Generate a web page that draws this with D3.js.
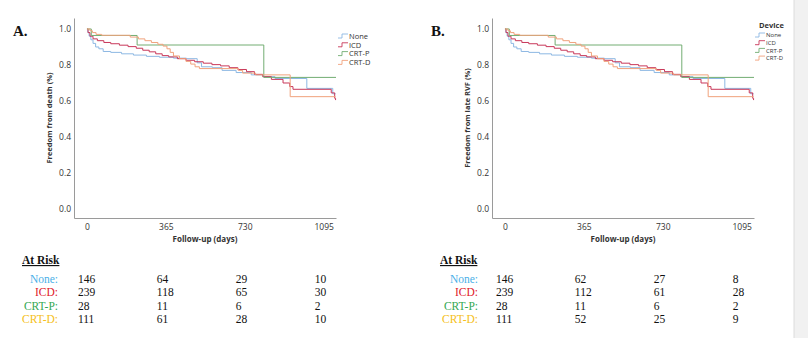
<!DOCTYPE html>
<html>
<head>
<meta charset="utf-8">
<script src="https://cdn.jsdelivr.net/npm/d3@7"></script>
<style>
body{margin:0;background:#fff;}
</style>
</head>
<body>
<script>
// groups and colours
var groups = ["None", "ICD", "CRT-P", "CRT-D"];
var lineColours = ["#8db8e3", "#c8385a", "#72ad72", "#f0a27c"];
var tableColours = ["#4ab0e8", "#e0202a", "#33a852", "#f5c020"];
var xTicks = [0, 365, 730, 1095];
var yTicks = [0, 0.2, 0.4, 0.6, 0.8, 1.0];

// KM steps [day, survival]
var noneSteps = [[0,1],[4,0.98],[10,0.96],[18,0.94],[28,0.92],[40,0.90],[55,0.89],[75,0.875],[110,0.87],[160,0.862],[215,0.855],[275,0.848],[335,0.843],[400,0.838],[460,0.835],[510,0.812],[530,0.79],[580,0.785],[625,0.77],[690,0.758],[760,0.745],[815,0.735],[870,0.725],[1017,0.67],[1137,0.64],[1150,0.64]];
var icdSteps = [[0,1],[5,0.98],[14,0.96],[28,0.945],[48,0.935],[78,0.925],[110,0.918],[150,0.91],[190,0.902],[228,0.893],[258,0.882],[288,0.873],[318,0.862],[348,0.852],[378,0.845],[418,0.835],[458,0.826],[498,0.818],[538,0.81],[578,0.802],[618,0.795],[658,0.785],[698,0.775],[738,0.763],[775,0.748],[813,0.735],[853,0.72],[907,0.70],[938,0.68],[953,0.665],[1130,0.645],[1146,0.615],[1150,0.605]];
var crtpSteps = [[0,1],[20,0.964],[232,0.911],[818,0.731],[1152,0.731]];
var crtdSteps = [[0,1],[14,0.99],[25,0.98],[42,0.97],[68,0.965],[200,0.955],[238,0.945],[268,0.935],[298,0.925],[328,0.915],[352,0.905],[370,0.89],[385,0.87],[400,0.85],[428,0.835],[458,0.82],[480,0.805],[500,0.79],[520,0.78],[700,0.77],[720,0.755],[780,0.745],[940,0.624],[1150,0.624]];

// at risk numbers
var riskA = [[146,64,29,10],[239,118,65,30],[28,11,6,2],[111,61,28,10]];
var riskB = [[146,62,27,8],[239,112,61,28],[28,11,6,2],[111,52,25,9]];

var svg = d3.select("body").append("svg")
	.attr("width", 808).attr("height", 338);

// grey strip on right edge
svg.append("rect").attr("x", 794).attr("y", 0).attr("width", 14).attr("height", 338).attr("fill", "#f1f1f1");
svg.append("line").attr("x1", 794).attr("x2", 794).attr("y1", 0).attr("y2", 338).style("stroke", "#dcdcdc");

drawPanel(0, "A.", "Freedom from death (%)", [noneSteps, icdSteps, crtpSteps, crtdSteps], riskA, false);
drawPanel(418, "B.", "Freedom from late RVF (%)", [noneSteps, icdSteps, crtpSteps, crtdSteps], riskB, true);

function drawPanel(dx, letter, yTitle, series, risk, deviceLegend){
	var g = svg.append("g").attr("transform", "translate(" + dx + ",0)");

	var x = d3.scaleLinear().domain([-60, 1152]).range([74, 336]);
	var y = d3.scaleLinear().domain([-0.05, 1.061]).range([218, 18]);

	g.append("text").attr("x", 13).attr("y", 36).text(letter)
		.attr("font-family", "Liberation Serif").attr("font-weight", "bold").attr("font-size", 15).attr("fill", "#111");

	// axes
	var xAxis = g.append("g").attr("transform", "translate(0,218)")
		.call(d3.axisBottom(x).tickValues(xTicks).tickSize(0).tickPadding(6).tickFormat(d3.format("d")));
	var yAxis = g.append("g").attr("transform", "translate(74,0)")
		.call(d3.axisLeft(y).tickValues(yTicks).tickSize(0).tickPadding(3).tickFormat(d3.format(".1f")));
	[xAxis, yAxis].forEach(function(a){
		a.select(".domain").style("stroke", "#9a9a9a");
		a.selectAll("text").attr("font-family", "Open Sans").attr("font-size", 8.5).attr("fill", "#333");
	});

	g.append("text").attr("x", 205).attr("y", 242).attr("text-anchor", "middle").text("Follow-up (days)")
		.attr("font-family", "Open Sans").attr("font-weight", "bold").attr("font-size", 8).attr("fill", "#333");
	g.append("text").attr("transform", "translate(52,118) rotate(-90)").attr("text-anchor", "middle").text(yTitle)
		.attr("font-family", "Open Sans").attr("font-weight", "bold").attr("font-size", 7.5).attr("fill", "#333");

	// curves
	var line = d3.line().x(function(d){return x(d[0]);}).y(function(d){return y(d[1]);}).curve(d3.curveStepAfter);
	series.forEach(function(s, i){
		g.append("path").datum(s).attr("d", line)
			.attr("fill", "none").attr("stroke", lineColours[i]).attr("stroke-width", 1);
	});

	// legend
	var lx, ly, step, fs;
	if(deviceLegend){
		g.append("text").attr("x", 341).attr("y", 28).text("Device")
			.attr("font-family", "Open Sans").attr("font-weight", "bold").attr("font-size", 7.5).attr("fill", "#333");
		lx = 337; ly = 35; step = 7.7; fs = 6;
	} else {
		lx = 338; ly = 36; step = 8.8; fs = 7.5;
	}
	groups.forEach(function(name, i){
		var cy = ly + i*step;
		g.append("path").attr("d", "M" + lx + "," + (cy+2) + "h4v-4h6")
			.attr("fill", "none").attr("stroke", lineColours[i]).attr("stroke-width", 0.9);
		g.append("text").attr("x", lx + 11).attr("y", cy + fs*0.36).text(name)
			.attr("font-family", "Open Sans").attr("font-size", fs).attr("fill", "#333");
	});

	// at risk table
	g.append("text").attr("x", 22).attr("y", 264).text("At Risk")
		.attr("font-family", "Liberation Serif").attr("font-weight", "bold").attr("font-size", 11.5).attr("fill", "#111")
		.style("text-decoration", "underline");
	groups.forEach(function(name, i){
		var by = 283 + i*13.4;
		g.append("text").attr("x", 58 + (dx ? 2 : 0)).attr("y", by).attr("text-anchor", "end").text(name + ":")
			.attr("font-family", "Liberation Serif").attr("font-size", 11.5).attr("fill", tableColours[i]);
		risk[i].forEach(function(v, j){
			g.append("text").attr("x", x(xTicks[j]) - 9).attr("y", by).text(v)
				.attr("font-family", "Liberation Serif").attr("font-size", 11.5).attr("fill", "#111");
		});
	});
}
</script>
</body>
</html>
